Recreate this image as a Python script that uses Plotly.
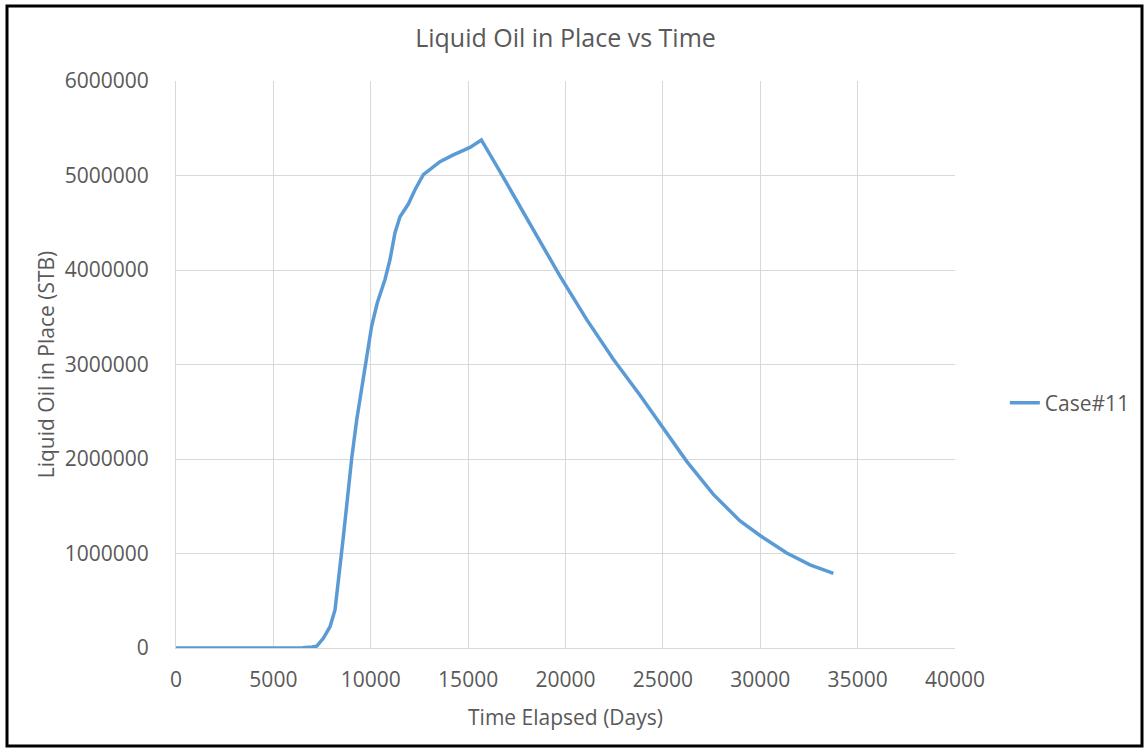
import plotly.graph_objects as go

days = [0, 1000, 2000, 3000, 4000, 5000, 6000, 6500, 7000, 7224, 7565, 7908, 8165, 8421,
        8593, 8850, 9022, 9278, 9447, 9790, 10046, 10337, 10731, 10988, 11245, 11502,
        11930, 12272, 12700, 13556, 14240, 15096, 15680, 16637, 17664, 18691, 19718,
        21090, 22455, 23827, 25000, 26223, 27592, 28962, 30025, 31360, 32557, 33755]
oil = [0, 0, 0, 0, 0, 0, 0, 2000, 10000, 20000, 103000, 225000, 402000, 825000,
       1178000, 1672000, 2007000, 2413000, 2645000, 3064000, 3407000, 3653000, 3900000,
       4109000, 4394000, 4564000, 4698000, 4850000, 5009000, 5146000, 5218000, 5297000,
       5376000, 5040000, 4670000, 4300000, 3935000, 3475000, 3055000, 2675000, 2330000,
       1975000, 1625000, 1345000, 1185000, 1005000, 880000, 790000]

series_name = "Case#11"
x_ticks = [0, 5000, 10000, 15000, 20000, 25000, 30000, 35000, 40000]
y_ticks = [0, 1000000, 2000000, 3000000, 4000000, 5000000, 6000000]

FONT = "Open Sans"
GREY = "#595959"
GRID = "#d9d9d9"
W, H = 1147, 751

fig = go.Figure()
fig.add_trace(go.Scatter(x=days, y=oil, mode="lines", name=series_name,
                         line=dict(color="#5B9BD5", width=3.5)))

fig.update_layout(
    width=W, height=H,
    margin=dict(l=176, r=192, t=81, b=103),
    paper_bgcolor="white", plot_bgcolor="white",
    font=dict(family=FONT, color=GREY, size=21),
    title=dict(text="Liquid Oil in Place vs Time", x=0.5, xref="paper", xanchor="center",
               y=1 - 38 / H, yref="container", yanchor="middle",
               font=dict(size=25, color=GREY, family=FONT)),
    showlegend=True,
    legend=dict(x=1.064, y=0.432, xanchor="left", yanchor="middle",
                font=dict(size=21, color=GREY), bgcolor="rgba(0,0,0,0)"),
    xaxis=dict(range=[0, 40000], tickvals=x_ticks, ticktext=[str(v) for v in x_ticks],
               showgrid=True, gridcolor=GRID, gridwidth=1, zeroline=False,
               showline=True, linecolor=GRID, linewidth=1, mirror=False,
               ticks="", ticklabelstandoff=13,
               title=dict(text="Time Elapsed (Days)", font=dict(size=21, color=GREY), standoff=18)),
    yaxis=dict(range=[0, 6000000], tickvals=y_ticks, ticktext=[str(v) for v in y_ticks],
               showgrid=True, gridcolor=GRID, gridwidth=1, zeroline=False,
               showline=True, linecolor=GRID, linewidth=1,
               ticks="", ticklabelstandoff=22,
               title=dict(text="Liquid Oil in Place (STB)", font=dict(size=21, color=GREY), standoff=4)),
    shapes=[dict(type="rect", xref="paper", yref="paper",
                 x0=(7 - 176) / 779, x1=(1142 - 176) / 779,
                 y0=(648 - 746) / 567, y1=(648 - 6) / 567,
                 line=dict(color="black", width=3), fillcolor="rgba(0,0,0,0)", layer="above")],
)

fig.write_html("out.html", config={"displayModeBar": False},
               post_script="document.body.style.margin='0';document.body.style.overflow='hidden';")
